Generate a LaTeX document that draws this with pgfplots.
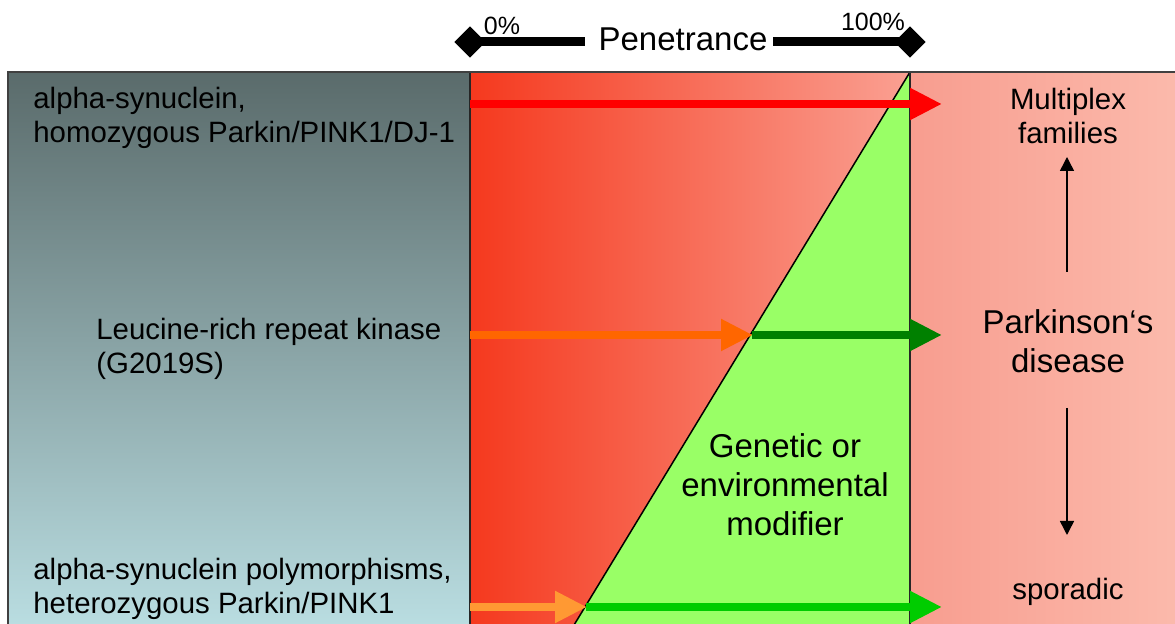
\documentclass[border=0pt]{standalone}
\usepackage{pgfplots}
\pgfplotsset{compat=1.18}
\usepackage{fontspec}
\setmainfont{Liberation Sans}
\usetikzlibrary{arrows.meta}
\definecolor{slateTop}{RGB}{90,107,107}
\definecolor{slateBot}{RGB}{186,222,226}
\definecolor{midL}{RGB}{245,57,30}
\definecolor{midR}{RGB}{250,160,146}
\definecolor{rgtL}{RGB}{248,157,143}
\definecolor{rgtR}{RGB}{251,186,172}
\definecolor{modgreen}{RGB}{153,255,102}
\definecolor{arrRed}{RGB}{255,0,0}
\definecolor{arrOrangeA}{RGB}{255,102,0}
\definecolor{arrOrangeB}{RGB}{255,153,51}
\definecolor{arrGreenA}{RGB}{0,128,0}
\definecolor{arrGreenB}{RGB}{0,204,0}
\newcommand{\lab}{\fontsize{14.7}{17}\selectfont}
\newcommand{\bigf}{\fontsize{16.5}{19}\selectfont}
\newcommand{\sml}{\fontsize{12.5}{14}\selectfont}
\begin{document}
\begin{tikzpicture}
\begin{axis}[
  width=587.5pt, height=312pt, scale only axis,
  xmin=0, xmax=1175, ymin=0, ymax=624, y dir=reverse,
  hide axis, clip=true,
  thickarrow/.style={line width=4.2pt, -{Triangle[length=16pt,width=15pt]}},
]
% panels
\addplot[draw=black!75, line width=1pt, top color=slateTop, bottom color=slateBot]
  coordinates {(8,72) (470,72) (470,630) (8,630)} -- cycle;
\addplot[draw=none, left color=midL, right color=midR]
  coordinates {(470,72) (910,72) (910,630) (470,630)} -- cycle;
\addplot[draw=black!75, line width=1pt, left color=rgtL, right color=rgtR]
  coordinates {(910,72) (1180,72) (1180,630) (910,630)} -- cycle;
% green modifier triangle
\addplot[draw=none, fill=modgreen]
  coordinates {(910,72) (910,630) (571,630)} -- cycle;
\addplot[black, line width=0.75pt] coordinates {(910,72) (571,630)};
\addplot[black!85, line width=1pt] coordinates {(470,72) (470,630)};
\addplot[black!85, line width=1pt] coordinates {(910,72) (910,630)};
\addplot[black!75, line width=1pt] coordinates {(8,72) (1180,72)};
% arrows
\addplot[arrRed, thickarrow] coordinates {(470,104) (942,104)};
\addplot[arrOrangeA, thickarrow] coordinates {(470,335) (753,335)};
\addplot[arrGreenA, thickarrow] coordinates {(752,335) (942,335)};
\addplot[arrOrangeB, thickarrow] coordinates {(470,607) (587,607)};
\addplot[arrGreenB, thickarrow] coordinates {(586,607) (942,607)};
% thin vertical arrows
\addplot[black, line width=0.75pt, -{Triangle[length=7pt,width=7pt]}] coordinates {(1067,272) (1067,157)};
\addplot[black, line width=0.75pt, -{Triangle[length=7pt,width=7pt]}] coordinates {(1067,408) (1067,535)};
% penetrance bar
\addplot[black, line width=4.5pt] coordinates {(470,42) (585,42)};
\addplot[black, line width=4.5pt] coordinates {(773,42) (910,42)};
\addplot[only marks, mark=square*, mark size=5.3pt, mark options={rotate=45, fill=black, draw=black}] coordinates {(470,42) (910,42)};
\node[anchor=base, inner sep=0pt] at (axis cs:683,51) {\bigf Penetrance};
\node[anchor=base, inner sep=0pt] at (axis cs:502,35) {\sml 0\%};
\node[anchor=base, inner sep=0pt] at (axis cs:873,31) {\sml 100\%};
% left labels
\node[anchor=base west, inner sep=0pt] at (axis cs:33,109) {\lab alpha-synuclein,};
\node[anchor=base west, inner sep=0pt] at (axis cs:33,143) {\lab homozygous Parkin/PINK1/DJ-1};
\node[anchor=base west, inner sep=0pt] at (axis cs:96,340) {\lab Leucine-rich repeat kinase};
\node[anchor=base west, inner sep=0pt] at (axis cs:96,374) {\lab (G2019S)};
\node[anchor=base west, inner sep=0pt] at (axis cs:33,580) {\lab alpha-synuclein polymorphisms,};
\node[anchor=base west, inner sep=0pt] at (axis cs:33,614) {\lab heterozygous Parkin/PINK1};
% right labels
\node[anchor=base, inner sep=0pt] at (axis cs:1068,110) {\lab Multiplex};
\node[anchor=base, inner sep=0pt] at (axis cs:1068,144) {\lab families};
\node[anchor=base, inner sep=0pt] at (axis cs:1068,334) {\bigf Parkinson‘s};
\node[anchor=base, inner sep=0pt] at (axis cs:1068,373) {\bigf disease};
\node[anchor=base, inner sep=0pt] at (axis cs:1068,600) {\lab sporadic};
% modifier text
\node[anchor=base, inner sep=0pt] at (axis cs:785,458) {\bigf Genetic or};
\node[anchor=base, inner sep=0pt] at (axis cs:785,497) {\bigf environmental};
\node[anchor=base, inner sep=0pt] at (axis cs:785,536) {\bigf modifier};
\end{axis}
\pgfresetboundingbox
\path[use as bounding box] (current axis.south west) rectangle (current axis.north east);
\end{tikzpicture}
\end{document}
